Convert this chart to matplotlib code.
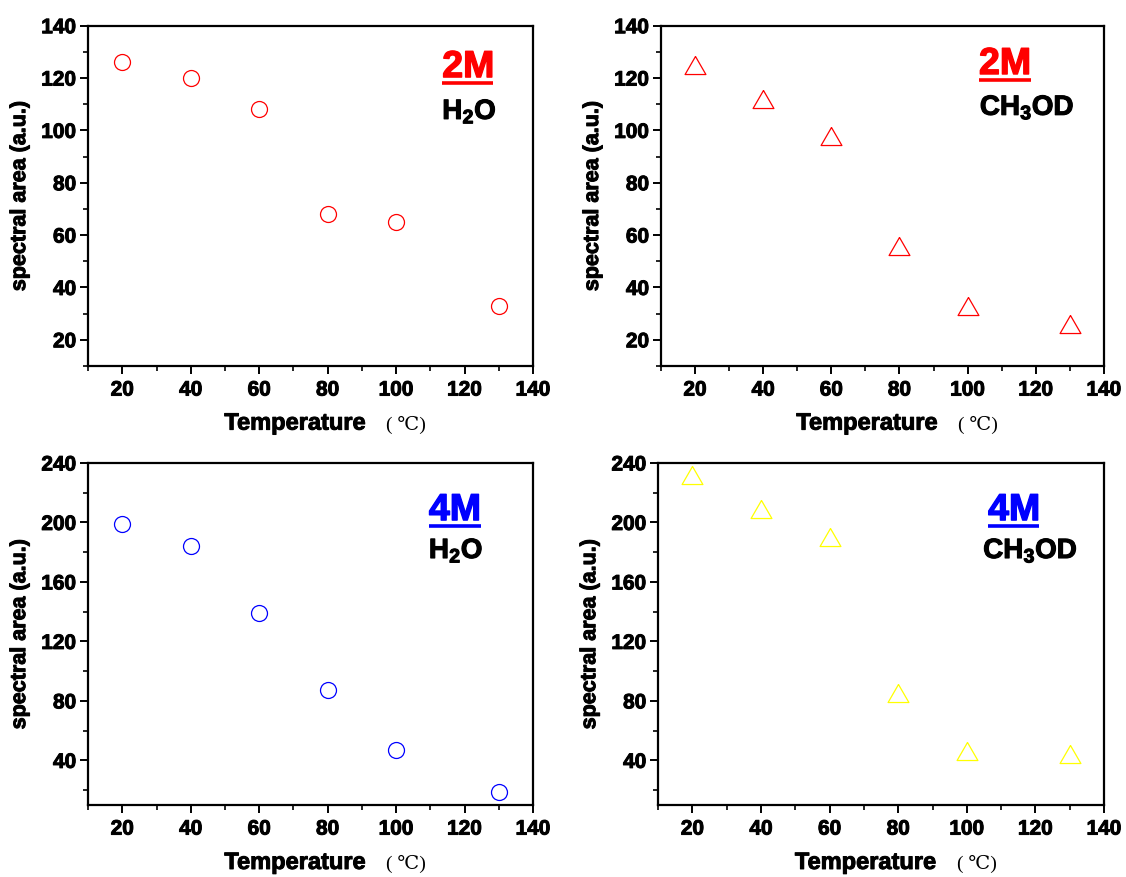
import numpy as np
import matplotlib
matplotlib.use("Agg")
import matplotlib.pyplot as plt
import matplotlib.patheffects as pe
from matplotlib.ticker import MultipleLocator

plt.rcParams["font.family"] = ["Liberation Sans", "DejaVu Sans"]
plt.rcParams["font.weight"] = "bold"
plt.rcParams["mathtext.fontset"] = "custom"
plt.rcParams["mathtext.rm"] = "Liberation Sans:bold"
plt.rcParams["mathtext.bf"] = "Liberation Sans:bold"
plt.rcParams["mathtext.it"] = "Liberation Sans:bold"

# ── 数据 ──
temperature = [20, 40, 60, 80, 100, 130]
area_2m_h2o = [126, 120, 108, 68, 65, 33]
area_2m_ch3od = [125, 112, 98, 56, 33, 26]
area_4m_h2o = [199, 184, 139, 87, 47, 19]
area_4m_ch3od = [232, 209, 190, 85, 46, 44]

# 等边三角形标记
TRI = [(0, 0.5), (-0.577, -0.5), (0.577, -0.5), (0, 0.5)]

# 加粗描边 (模仿原图的粗体字)
def heavy(color="black", w=0.7):
    return [pe.withStroke(linewidth=w, foreground=color)]

panels = [
    dict(rect=[0.0782, 0.5827, 0.3952, 0.388], y=area_2m_h2o, marker="o", color="#FF0000", ms=11.5,
         conc="2M", ccol="#FF0000", solv=r"$\mathbf{H_2O}$", ylim=(10, 140), yticks=range(20, 141, 20),
         minor=10, cx=0.796, cy=0.849, uy=0.833, ux1=0.91, sx=0.796, sy=0.726),
    dict(rect=[0.587, 0.5827, 0.3934, 0.388], y=area_2m_ch3od, marker=TRI, color="#FF0000", ms=15,
         conc="2M", ccol="#FF0000", solv=r"$\mathbf{CH_3OD}$", ylim=(10, 140), yticks=range(20, 141, 20),
         minor=10, cx=0.718, cy=0.858, uy=0.840, ux1=0.835, sx=0.720, sy=0.738),
    dict(rect=[0.0782, 0.0821, 0.3952, 0.39], y=area_4m_h2o, marker="o", color="#0000FF", ms=11.5,
         conc="4M", ccol="#0000FF", solv=r"$\mathbf{H_2O}$", ylim=(10, 240), yticks=range(40, 241, 40),
         minor=20, cx=0.766, cy=0.833, uy=0.816, ux1=0.883, sx=0.766, sy=0.722),
    dict(rect=[0.5845, 0.0821, 0.396, 0.39], y=area_4m_ch3od, marker=TRI, color="#FFFF00", ms=15,
         conc="4M", ccol="#0000FF", solv=r"$\mathbf{CH_3OD}$", ylim=(10, 240), yticks=range(40, 241, 40),
         minor=20, cx=0.740, cy=0.833, uy=0.816, ux1=0.854, sx=0.729, sy=0.722),
]

fig = plt.figure(figsize=(11.26, 8.77), dpi=100)

for p in panels:
    ax = fig.add_axes(p["rect"])
    ax.plot(temperature, p["y"], linestyle="none", marker=p["marker"], markersize=p["ms"],
            markerfacecolor="none", markeredgecolor=p["color"], markeredgewidth=0.9)

    ax.set_xlim(10, 140)
    ax.set_ylim(*p["ylim"])
    ax.set_xticks(range(20, 141, 20))
    ax.xaxis.set_minor_locator(MultipleLocator(10))
    ax.set_yticks(list(p["yticks"]))
    ax.yaxis.set_minor_locator(MultipleLocator(p["minor"]))

    for s in ax.spines.values():
        s.set_linewidth(1.6)
    ax.tick_params(which="major", direction="out", length=5.5, width=1.4, labelsize=15, pad=3)
    ax.tick_params(axis="x", which="major", pad=5)
    ax.tick_params(which="minor", direction="out", length=3.5, width=1.2)
    ax.tick_params(top=False, right=False, which="both")
    for lab in ax.get_xticklabels() + ax.get_yticklabels():
        lab.set_fontweight("bold")
        lab.set_path_effects(heavy())

    ax.set_ylabel("spectral area (a.u.)", fontsize=15.5, fontweight="bold", labelpad=8,
                  path_effects=heavy())
    ax.text(0.465, -0.168, "Temperature", transform=ax.transAxes, ha="center", va="center",
            fontsize=17, fontweight="bold", path_effects=heavy())
    ax.text(0.715, -0.172, "( \u2103)", transform=ax.transAxes, ha="center", va="center",
            fontsize=14, fontweight="normal",
            family=["Liberation Serif", "DejaVu Serif", "Noto Sans CJK SC"])

    # 浓度标签 + 下划线
    ax.text(p["cx"], p["cy"], p["conc"], transform=ax.transAxes, ha="left", va="baseline",
            fontsize=27, fontweight="bold", color=p["ccol"], path_effects=heavy(p["ccol"], 1.0))
    ax.plot([p["cx"], p["ux1"]], [p["uy"], p["uy"]], transform=ax.transAxes,
            color=p["ccol"], linewidth=2.6, solid_capstyle="butt", clip_on=False)
    ax.text(p["sx"], p["sy"], p["solv"], transform=ax.transAxes, ha="left", va="baseline",
            fontsize=20, color="black", path_effects=heavy("black", 0.8))

fig.savefig("out.png", dpi=100)
